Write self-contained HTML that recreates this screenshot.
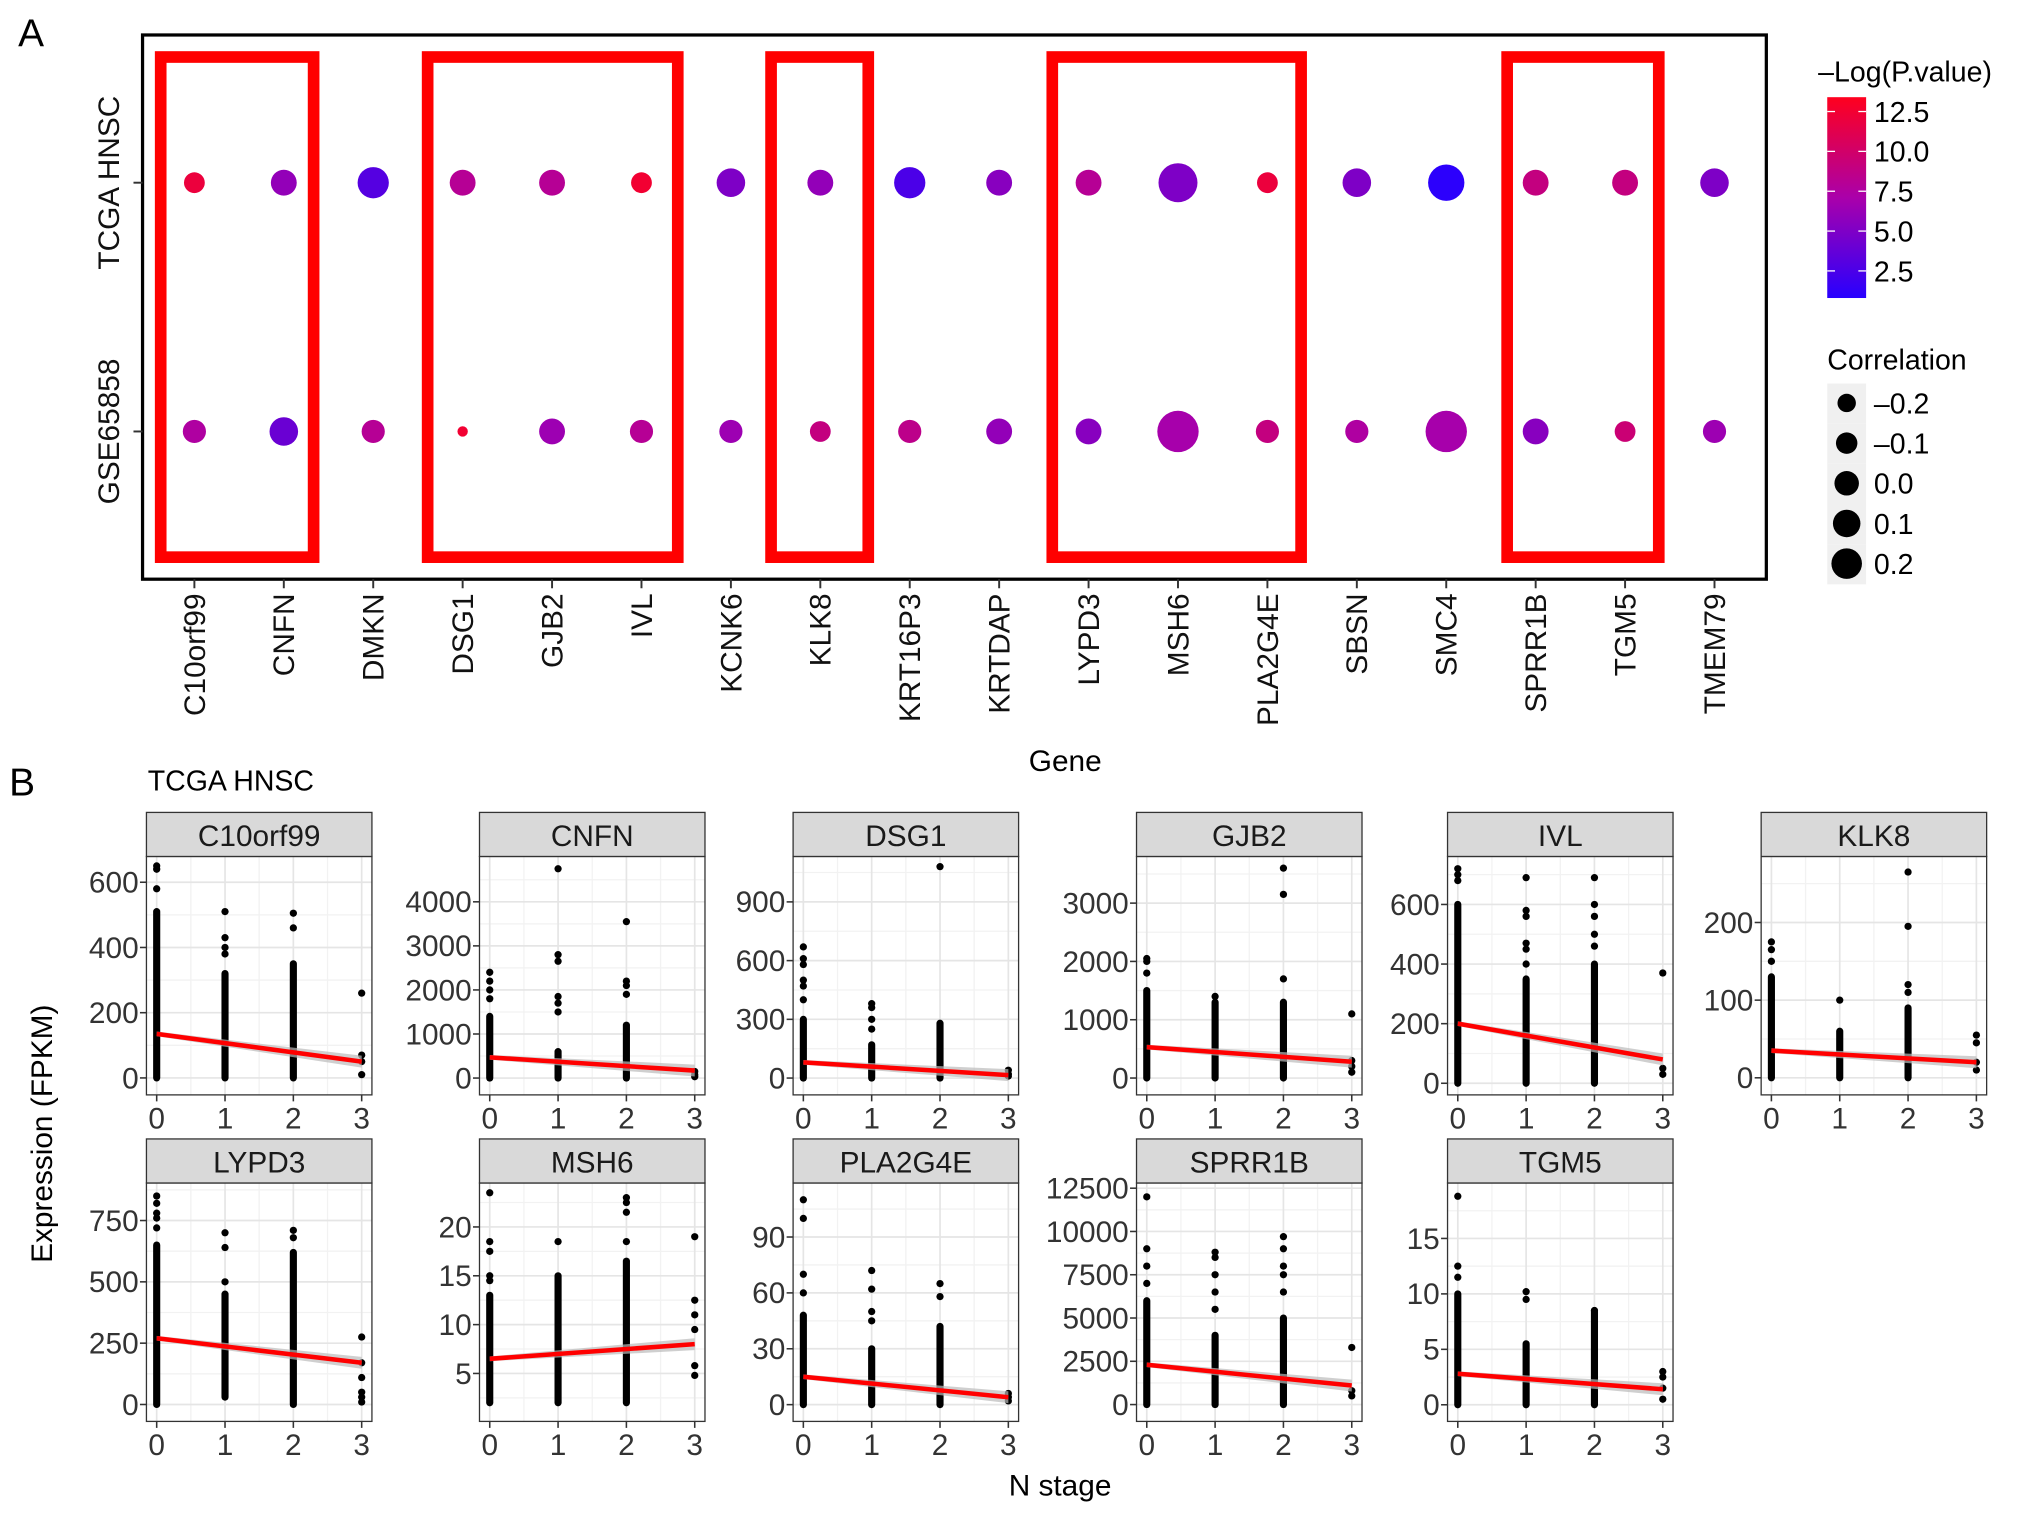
<!DOCTYPE html>
<html><head><meta charset="utf-8"><style>
html,body{margin:0;padding:0;background:#fff;}
svg{display:block;font-family:"Liberation Sans",Arial,sans-serif;}
</style></head><body>
<svg id="fig" width="2032" height="1516" viewBox="0 0 1568 1170" preserveAspectRatio="none" xmlns="http://www.w3.org/2000/svg"></svg>
<script>
// ---------- Panel A data ----------
const genes = ["C10orf99","CNFN","DMKN","DSG1","GJB2","IVL","KCNK6","KLK8","KRT16P3","KRTDAP","LYPD3","MSH6","PLA2G4E","SBSN","SMC4","SPRR1B","TGM5","TMEM79"];
const datasets = ["TCGA HNSC","GSE65858"];
const pvalTCGA = [12,6,3,8,8,12.5,5,6,2.5,5.5,8,5,12,5,1,9,9,5];
const pvalGSE  = [7.5,4,8,12.5,6.5,8,6.5,9,8.5,6,5.5,7,9,7.5,7,5.5,9.5,6.5];
const corrTCGA = [-0.19,-0.04,0.12,-0.04,-0.04,-0.19,0.04,-0.04,0.12,-0.04,-0.04,0.35,-0.19,0.04,0.27,-0.04,-0.04,0.04];
const corrGSE  = [-0.12,0.04,-0.12,-0.5,-0.04,-0.12,-0.12,-0.19,-0.12,-0.04,-0.04,0.42,-0.12,-0.12,0.42,-0.04,-0.19,-0.12];
const highlightGroups = [[0,1],[3,5],[7,7],[10,12],[15,16]];
const colorTicks = [2.5,5.0,7.5,10.0,12.5];
const sizeTicks = [-0.2,-0.1,0.0,0.1,0.2];

// ---------- Panel B data ----------
const facetNames = ["C10orf99","CNFN","DSG1","GJB2","IVL","KLK8","LYPD3","MSH6","PLA2G4E","SPRR1B","TGM5"];
const yDomains = [[-52,679],[-382,5029],[-86,1132],[-289,3800],[-39,761],[-22,285],[-69,903],[0.09,24.5],[-9,119],[-973,12800],[-1.5,20]];
const yTicks = [[0,200,400,600],[0,1000,2000,3000,4000],[0,300,600,900],[0,1000,2000,3000],[0,200,400,600],[0,100,200],[0,250,500,750],[5,10,15,20],[0,30,60,90],[0,2500,5000,7500,10000,12500],[0,5,10,15]];
const denseMin = [[0,0,0,0],[0,0,0,0],[0,0,0,0],[0,0,0,0],[0,0,0,0],[0,0,0,0],[0,30,0,0],[2,2,2,4.8],[0,0,0,0],[0,0,0,0],[0,0,0,0]];
const denseMax = [[510,320,350,0],[1400,600,1200,0],[300,170,280,0],[1500,1300,1300,0],[600,350,400,0],[130,60,90,0],[650,450,620,0],[13,15,16.5,4.8],[48,30,42,0],[6000,4000,5000,0],[10,5.5,8.5,0]];
const outliers = [
 [[650,640,580],[510,430,400,380],[505,460],[260,70,50,10]],
 [[2400,2200,2000,1800],[4750,2800,2650,1850,1700,1500],[3550,2200,2100,1900],[150,80,30]],
 [[670,610,580,500,470,400],[380,360,300,250],[1080],[40,20,10]],
 [[2050,2000,1800],[1400],[3600,3150,1700],[1100,300,200,100]],
 [[720,700,680],[690,580,560,470,450,400],[690,600,560,500,460],[370,50,30]],
 [[175,165,150],[100],[265,195,120,110],[55,45,20,10]],
 [[850,820,780,760,720],[700,640,500],[710,680],[275,170,110,50,30,10]],
 [[23.5,18.5,17.5,15,14.5],[18.5],[23,22.5,21.5,18.5],[19,12.5,11,9.5,5.8,4.8]],
 [[110,100,70,60],[72,62,50,45],[65,58],[6,4,2]],
 [[12000,9000,8000,7000],[8800,8500,7500,6500,5500],[9700,9000,8000,7500,6500],[3300,800,500]],
 [[18.8,12.5,11.5],[10.2,9.5],[8.5],[3,2.5,1.5,0.5]]
];
const fitStart = [135,470,80,530,200,35,270,6.5,15,2300,2.8];
const fitEnd   = [50,170,15,280,80,20,170,8,4,1100,1.4];
const stages = [0,1,2,3];

const NS="http://www.w3.org/2000/svg";
const svg=document.getElementById('fig');
function el(tag,attrs,parent,text){const e=document.createElementNS(NS,tag);for(const k in attrs)e.setAttribute(k,attrs[k]);if(text!==undefined)e.textContent=text;(parent||svg).appendChild(e);return e;}

// ===== Panel A =====
const gA=el('g',{});


const tA=el('text',{x:14,y:36,'font-size':30},gA,'A');


const AX0=110,AX1=1363,AY0=27,AY1=447;
const xA=i=>150+i*69;
const yA=j=>[141,333][j];
function colorScale(v){
  const t=Math.max(0,Math.min(1,(v-0.8)/(13.4-0.8)));
  let r,g,b;
  if(t<0.5){const u=t/0.5;r=40+130*u;g=0;b=255-85*u;}
  else{const u=(t-0.5)/0.5;r=170+85*u;g=0;b=170-140*u;}
  return `rgb(${r|0},${g|0},${b|0})`;
}
const rScale=c=>Math.max(3,10.5+13*c);
const frame=el('rect',{x:AX0,y:AY0,width:AX1-AX0,height:AY1-AY0,fill:'none',stroke:'#000','stroke-width':2.5},gA);


const boxPadL=[26,27,38,28,22], boxPadR=[23,28,37,26,26];
highlightGroups.forEach((g,k)=>{
  const x0=xA(g[0])-boxPadL[k],x1=xA(g[1])+boxPadR[k];
  const r=el('rect',{x:x0,y:44,width:x1-x0,height:386,fill:'none',stroke:'#ff0000','stroke-width':9},gA);
  
  
});
[pvalTCGA,pvalGSE].forEach((pv,j)=>{
  const cr=j===0?corrTCGA:corrGSE;
  genes.forEach((gname,i)=>{
    const c=el('circle',{cx:xA(i),cy:yA(j),r:rScale(cr[i]),fill:colorScale(pv[i])},gA);
    
    
  });
});
genes.forEach((gname,i)=>{
  el('line',{x1:xA(i),x2:xA(i),y1:AY1,y2:AY1+7,stroke:'#333','stroke-width':1.5},gA);
  const t=el('text',{x:0,y:0,'font-size':23,fill:'#111','text-anchor':'end',transform:`translate(${xA(i)+8},${AY1+11}) rotate(-90)`},gA,gname);
  
  
});
datasets.forEach((d,j)=>{
  el('line',{x1:AX0-7,x2:AX0,y1:yA(j),y2:yA(j),stroke:'#333','stroke-width':1.5},gA);
  const t=el('text',{x:0,y:0,'font-size':23,fill:'#111','text-anchor':'middle',transform:`translate(${AX0-18},${yA(j)}) rotate(-90)`},gA,d);
  
  
});
const gt=el('text',{x:822,y:595,'font-size':23,'text-anchor':'middle'},gA,'Gene');


// colour legend
const defs=el('defs',{});
const lg=el('linearGradient',{id:'cbar',x1:0,y1:1,x2:0,y2:0},defs);
for(let k=0;k<=10;k++){const v=0.8+k*(13.4-0.8)/10;el('stop',{offset:k/10,'stop-color':colorScale(v)},lg);}
const lt=el('text',{x:1403,y:63,'font-size':22},gA,'\u2013Log(P.value)');


const cb=el('rect',{x:1410,y:75,width:30,height:155,fill:'url(#cbar)'},gA);


const cy=v=>230-(v-0.8)/(13.4-0.8)*155;
colorTicks.forEach(v=>{
  el('line',{x1:1410,x2:1416,y1:cy(v),y2:cy(v),stroke:'#fff','stroke-width':1},gA);
  el('line',{x1:1434,x2:1440,y1:cy(v),y2:cy(v),stroke:'#fff','stroke-width':1},gA);
  const t=el('text',{x:1446,y:cy(v)+8,'font-size':22},gA,v.toFixed(1));
  
  
});
const st=el('text',{x:1410,y:285,'font-size':22},gA,'Correlation');


sizeTicks.forEach((v,k)=>{
  const yy=311+k*31;
  el('rect',{x:1410,y:yy-15,width:30,height:31,fill:'#f0f0f0'},gA);
  const c=el('circle',{cx:1425,cy:yy,r:rScale(v)*0.9,fill:'#000'},gA);
  
  
  el('text',{x:1446,y:yy+8,'font-size':22},gA,(v<0?'\u2013':'')+Math.abs(v).toFixed(1));
});

// ===== Panel B =====
const gB=el('g',{});


const tB=el('text',{x:7,y:614,'font-size':30},gB,'B');


const sub=el('text',{x:114,y:610,'font-size':22},gB,'TCGA HNSC');


const colX=[113,370,612,877,1117,1359];
const PW=174;
const rowY=[627,879];
facetNames.forEach((name,f)=>{
  const row=f<6?0:1,col=f<6?f:f-6;
  const px=colX[col],sy=rowY[row],py=sy+34,ph=184;
  const g=el('g',{},gB);
  
  
  const [lo,hi]=yDomains[f];
  const ys=v=>py+ph-(v-lo)/(hi-lo)*ph;
  const xs=s=>px+(s+0.15)/3.3*PW;
  el('rect',{x:px,y:py,width:PW,height:ph,fill:'#fff'},g);
  const tk=yTicks[f],step=tk[1]-tk[0];
  for(let k=-1;k<tk.length;k++){const v=tk[0]+(k+0.5)*step;if(v>lo&&v<hi)el('line',{x1:px,x2:px+PW,y1:ys(v),y2:ys(v),stroke:'#f2f2f2','stroke-width':1},g);}
  for(let s=0;s<3;s++)el('line',{x1:xs(s+0.5),x2:xs(s+0.5),y1:py,y2:py+ph,stroke:'#f2f2f2','stroke-width':1},g);
  tk.forEach(v=>{el('line',{x1:px,x2:px+PW,y1:ys(v),y2:ys(v),stroke:'#e5e5e5','stroke-width':1.3},g);});
  stages.forEach(s=>el('line',{x1:xs(s),x2:xs(s),y1:py,y2:py+ph,stroke:'#e5e5e5','stroke-width':1.3},g));
  stages.forEach(s=>{
    if(denseMax[f][s]>denseMin[f][s]){
      const d=el('line',{x1:xs(s),x2:xs(s),y1:ys(denseMin[f][s]),y2:ys(denseMax[f][s]),stroke:'#000','stroke-width':5.5,'stroke-linecap':'round'},g);
      
      
    }
    outliers[f][s].forEach(v=>{
      const c=el('circle',{cx:xs(s),cy:ys(v),r:2.8,fill:'#000'},g);
      
      
    });
  });
  const a=fitStart[f],b=fitEnd[f],w=(hi-lo)*0.025;
  el('polygon',{points:`${xs(0)},${ys(a+w*0.4)} ${xs(3)},${ys(b+w)} ${xs(3)},${ys(b-w)} ${xs(0)},${ys(a-w*0.4)}`,fill:'#bbb',opacity:0.7},g);
  const fl=el('line',{x1:xs(0),x2:xs(3),y1:ys(a),y2:ys(b),stroke:'#ff0000','stroke-width':3.5},g);
  
  
  el('rect',{x:px,y:py,width:PW,height:ph,fill:'none',stroke:'#333','stroke-width':1},g);
  const sr=el('rect',{x:px,y:sy,width:PW,height:34,fill:'#d9d9d9',stroke:'#333','stroke-width':1},g);
  
  
  el('text',{x:px+PW/2,y:sy+26,'font-size':23,'text-anchor':'middle',fill:'#1a1a1a'},g,name);
  tk.forEach(v=>{
    el('line',{x1:px-5,x2:px,y1:ys(v),y2:ys(v),stroke:'#333','stroke-width':1.2},g);
    const t=el('text',{x:px-6,y:ys(v)+8,'font-size':23,'text-anchor':'end',fill:'#333'},g,String(v));
    
    
  });
  stages.forEach(s=>{
    el('line',{x1:xs(s),x2:xs(s),y1:py+ph,y2:py+ph+5,stroke:'#333','stroke-width':1.2},g);
    const t=el('text',{x:xs(s),y:py+ph+26,'font-size':23,'text-anchor':'middle',fill:'#333'},g,String(s));
    
    
  });
});
const yt=el('text',{x:0,y:0,'font-size':23,'text-anchor':'middle',transform:'translate(40,875) rotate(-90)'},gB,'Expression (FPKM)');


const xt=el('text',{x:818,y:1154,'font-size':23,'text-anchor':'middle'},gB,'N stage');


</script>
</body></html>
